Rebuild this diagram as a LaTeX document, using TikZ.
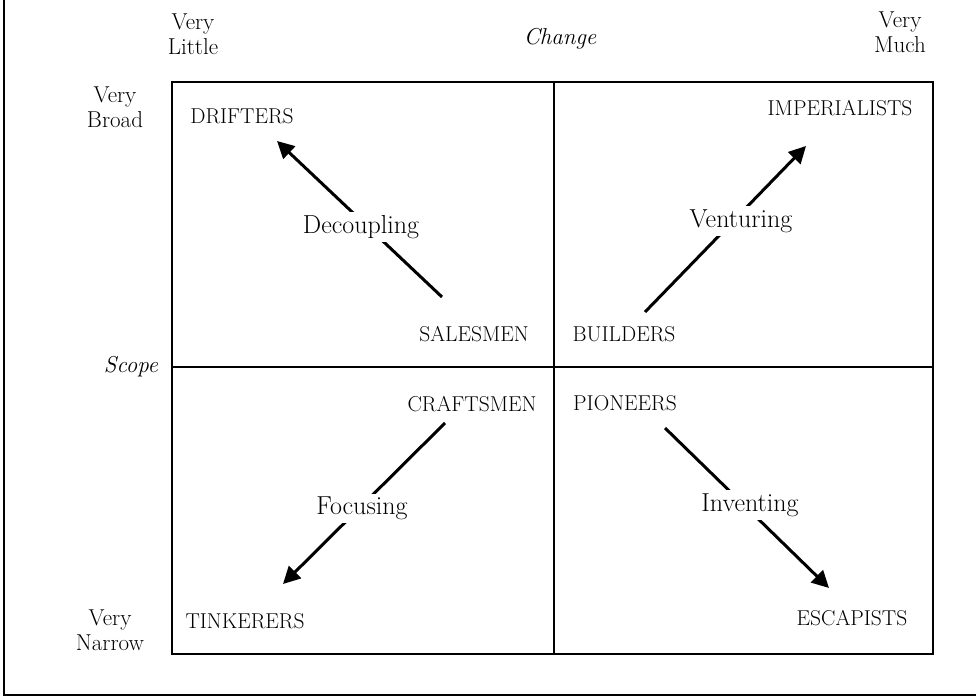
\documentclass[tikz,border=0pt]{standalone}
\usetikzlibrary{arrows.meta}
\begin{document}
\begin{tikzpicture}[x=1pt,y=-1pt,
  frame/.style={line width=1.7pt},
  flow/.style={line width=3pt,-{Triangle[length=17pt,width=17pt]}},
  caplabel/.style={font=\fontsize{21.5}{24}\selectfont,inner sep=0pt},
  lab/.style={font=\fontsize{23}{25}\selectfont,inner sep=0pt,align=center},
  arrowlab/.style={font=\fontsize{26}{28}\selectfont,fill=white,inner sep=3pt}
]
\useasboundingbox (0,0) rectangle (976,698);
% outer frame
\draw[frame] (4,0) -- (4,695) -- (976,695);
% inner quadrant box
\draw[frame] (172,82) rectangle (933,654);
\draw[frame] (554,82) -- (554,654);
\draw[frame] (172,367) -- (933,367);
% axis labels
\node[lab] (vlittle) at (193,34) {Very\\Little};
\node[lab] (vmuch) at (900,32) {Very\\Much};
\node[lab,font=\fontsize{23}{25}\selectfont\itshape] (change) at (560,39) {Change};
\node[lab] (vbroad) at (115,107) {Very\\Broad};
\node[lab,font=\fontsize{23}{25}\selectfont\itshape] (scope) at (131,367) {Scope};
\node[lab] (vnarrow) at (110,630) {Very\\Narrow};
% quadrant labels
\node[caplabel] (drifters) at (242,116) {DRIFTERS};
\node[caplabel] (imperialists) at (840,108) {IMPERIALISTS};
\node[caplabel] (salesmen) at (474,334) {SALESMEN};
\node[caplabel] (builders) at (624,334) {BUILDERS};
\node[caplabel] (craftsmen) at (472,404) {CRAFTSMEN};
\node[caplabel] (pioneers) at (625,403) {PIONEERS};
\node[caplabel] (tinkerers) at (245,621) {TINKERERS};
\node[caplabel] (escapists) at (852,618) {ESCAPISTS};
% arrow end points
\coordinate (dS) at (442,297);
\coordinate (dE) at (277,141);
\coordinate (vS) at (645,312);
\coordinate (vE) at (806,146);
\coordinate (fS) at (445,423);
\coordinate (fE) at (283,584);
\coordinate (iS) at (665,428);
\coordinate (iE) at (829,588);
% arrows
\draw[flow] (dS) -- (dE);
\draw[flow] (vS) -- (vE);
\draw[flow] (fS) -- (fE);
\draw[flow] (iS) -- (iE);
% arrow labels
\node[arrowlab] (decoupling) at (361,227) {Decoupling};
\node[arrowlab] (venturing) at (741,221) {Venturing};
\node[arrowlab] (focusing) at (362,508) {Focusing};
\node[arrowlab] (inventing) at (750,505) {Inventing};
\end{tikzpicture}
\end{document}
